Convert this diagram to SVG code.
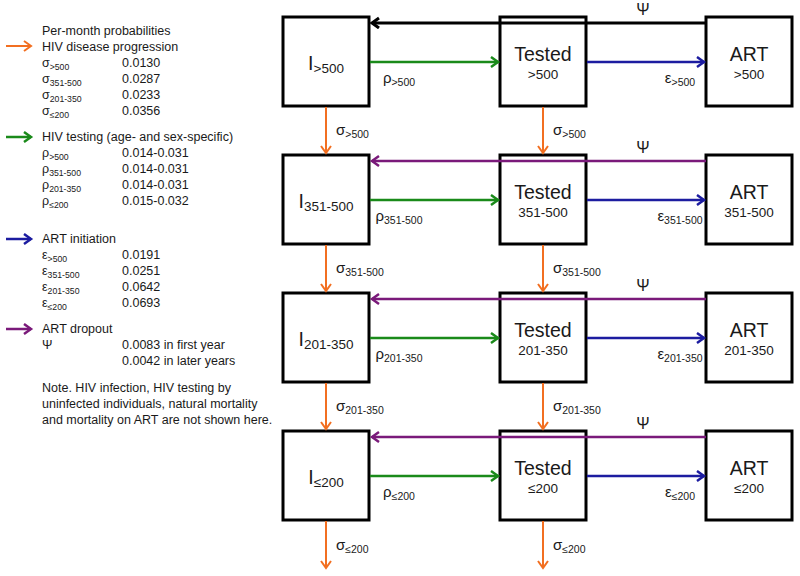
<svg xmlns="http://www.w3.org/2000/svg" width="800" height="576" viewBox="0 0 800 576">
<style>
text{font-family:"Liberation Sans",Arial,sans-serif;fill:#1a1a1a}
.lg{font-size:12.5px}
.sb{font-size:8.7px}
.box{fill:#fff;stroke:#000;stroke-width:3}
.big{font-size:19.5px}
.mid{font-size:13.5px}
.lab{font-size:15px}
.psi{font-size:16px}
.ls{font-size:10.5px}
.or{stroke:#f26f21;stroke-width:2;fill:none}
.gr{stroke:#1a8a1a;stroke-width:2.5;fill:none}
.bl{stroke:#1c1ca0;stroke-width:2.5;fill:none}
.pu{stroke:#7a1a7a;stroke-width:2.5;fill:none}
.bk{stroke:#000;stroke-width:3;fill:none}
</style>
<defs>
<marker id="mo" markerUnits="userSpaceOnUse" markerWidth="12" markerHeight="14" refX="8" refY="6" orient="auto"><path d="M1,1 L8,6 L1,11" fill="none" stroke="#f26f21" stroke-width="2"/></marker>
<marker id="mg" markerUnits="userSpaceOnUse" markerWidth="12" markerHeight="14" refX="8" refY="6" orient="auto"><path d="M1,1 L8,6 L1,11" fill="none" stroke="#1a8a1a" stroke-width="2.5"/></marker>
<marker id="mb" markerUnits="userSpaceOnUse" markerWidth="12" markerHeight="14" refX="8" refY="6" orient="auto"><path d="M1,1 L8,6 L1,11" fill="none" stroke="#1c1ca0" stroke-width="2.5"/></marker>
<marker id="mp" markerUnits="userSpaceOnUse" markerWidth="12" markerHeight="14" refX="8" refY="6" orient="auto"><path d="M1,1 L8,6 L1,11" fill="none" stroke="#7a1a7a" stroke-width="2.5"/></marker>
<marker id="mk" markerUnits="userSpaceOnUse" markerWidth="12" markerHeight="14" refX="8" refY="6" orient="auto"><path d="M1,1 L8,6 L1,11" fill="none" stroke="#000" stroke-width="3"/></marker>
</defs>

<g id="legend">
<line x1="6" y1="46" x2="31" y2="46" class="or" marker-end="url(#mo)"/>
<line x1="6" y1="137" x2="31" y2="137" class="gr" marker-end="url(#mg)"/>
<line x1="6" y1="239" x2="31" y2="239" class="bl" marker-end="url(#mb)"/>
<line x1="6" y1="329" x2="31" y2="329" class="pu" marker-end="url(#mp)"/>
<text class="lg" x="42" y="35">Per-month probabilities</text>
<text class="lg" x="42" y="51">HIV disease progression</text>
<text class="lg" x="42" y="67">σ<tspan class="sb" dy="3">&gt;500</tspan></text><text class="lg" x="122" y="67">0.0130</text>
<text class="lg" x="42" y="83">σ<tspan class="sb" dy="3">351-500</tspan></text><text class="lg" x="122" y="83">0.0287</text>
<text class="lg" x="42" y="99">σ<tspan class="sb" dy="3">201-350</tspan></text><text class="lg" x="122" y="99">0.0233</text>
<text class="lg" x="42" y="115">σ<tspan class="sb" dy="3">≤200</tspan></text><text class="lg" x="122" y="115">0.0356</text>
<text class="lg" x="42" y="141">HIV testing (age- and sex-specific)</text>
<text class="lg" x="42" y="157">ρ<tspan class="sb" dy="3">&gt;500</tspan></text><text class="lg" x="122" y="157">0.014-0.031</text>
<text class="lg" x="42" y="173">ρ<tspan class="sb" dy="3">351-500</tspan></text><text class="lg" x="122" y="173">0.014-0.031</text>
<text class="lg" x="42" y="189">ρ<tspan class="sb" dy="3">201-350</tspan></text><text class="lg" x="122" y="189">0.014-0.031</text>
<text class="lg" x="42" y="205">ρ<tspan class="sb" dy="3">≤200</tspan></text><text class="lg" x="122" y="205">0.015-0.032</text>
<text class="lg" x="42" y="243">ART initiation</text>
<text class="lg" x="42" y="259">ε<tspan class="sb" dy="3">&gt;500</tspan></text><text class="lg" x="122" y="259">0.0191</text>
<text class="lg" x="42" y="275">ε<tspan class="sb" dy="3">351-500</tspan></text><text class="lg" x="122" y="275">0.0251</text>
<text class="lg" x="42" y="291">ε<tspan class="sb" dy="3">201-350</tspan></text><text class="lg" x="122" y="291">0.0642</text>
<text class="lg" x="42" y="307">ε<tspan class="sb" dy="3">≤200</tspan></text><text class="lg" x="122" y="307">0.0693</text>
<text class="lg" x="42" y="333">ART dropout</text>
<text class="lg" x="42" y="349">Ψ</text><text class="lg" x="122" y="349">0.0083 in first year</text>
<text class="lg" x="122" y="365">0.0042 in later years</text>
<text class="lg" x="42" y="392">Note. HIV infection, HIV testing by</text>
<text class="lg" x="42" y="408">uninfected individuals, natural mortality</text>
<text class="lg" x="42" y="424">and mortality on ART are not shown here.</text>
</g>

<g id="I500"><rect class="box" x="283" y="17" width="86" height="89"/><text class="big" x="326" y="70" text-anchor="middle">I<tspan class="mid" dy="3">&gt;500</tspan></text></g>
<g id="T500"><rect class="box" x="500" y="17" width="86" height="89"/><text class="big" x="543" y="61" text-anchor="middle">Tested</text><text class="mid" x="543" y="79" text-anchor="middle">&gt;500</text></g>
<g id="A500"><rect class="box" x="706" y="17" width="86" height="89"/><text class="big" x="749" y="61" text-anchor="middle">ART</text><text class="mid" x="749" y="79" text-anchor="middle">&gt;500</text></g>

<g id="I351"><rect class="box" x="283" y="155" width="86" height="89"/><text class="big" x="326" y="208" text-anchor="middle">I<tspan class="mid" dy="3">351-500</tspan></text></g>
<g id="T351"><rect class="box" x="500" y="155" width="86" height="89"/><text class="big" x="543" y="199" text-anchor="middle">Tested</text><text class="mid" x="543" y="217" text-anchor="middle">351-500</text></g>
<g id="A351"><rect class="box" x="706" y="155" width="86" height="89"/><text class="big" x="749" y="199" text-anchor="middle">ART</text><text class="mid" x="749" y="217" text-anchor="middle">351-500</text></g>

<g id="I201"><rect class="box" x="283" y="293" width="86" height="89"/><text class="big" x="326" y="346" text-anchor="middle">I<tspan class="mid" dy="3">201-350</tspan></text></g>
<g id="T201"><rect class="box" x="500" y="293" width="86" height="89"/><text class="big" x="543" y="337" text-anchor="middle">Tested</text><text class="mid" x="543" y="355" text-anchor="middle">201-350</text></g>
<g id="A201"><rect class="box" x="706" y="293" width="86" height="89"/><text class="big" x="749" y="337" text-anchor="middle">ART</text><text class="mid" x="749" y="355" text-anchor="middle">201-350</text></g>

<g id="I200"><rect class="box" x="283" y="431" width="86" height="89"/><text class="big" x="326" y="484" text-anchor="middle">I<tspan class="mid" dy="3">≤200</tspan></text></g>
<g id="T200"><rect class="box" x="500" y="431" width="86" height="89"/><text class="big" x="543" y="475" text-anchor="middle">Tested</text><text class="mid" x="543" y="493" text-anchor="middle">≤200</text></g>
<g id="A200"><rect class="box" x="706" y="431" width="86" height="89"/><text class="big" x="749" y="475" text-anchor="middle">ART</text><text class="mid" x="749" y="493" text-anchor="middle">≤200</text></g>

<g id="connectors">
<line x1="706" y1="23" x2="372" y2="23" class="bk" marker-end="url(#mk)"/>
<line x1="706" y1="161" x2="372" y2="161" class="pu" marker-end="url(#mp)"/>
<line x1="706" y1="299" x2="372" y2="299" class="pu" marker-end="url(#mp)"/>
<line x1="706" y1="437" x2="372" y2="437" class="pu" marker-end="url(#mp)"/>

<line x1="370" y1="62" x2="498" y2="62" class="gr" marker-end="url(#mg)"/>
<line x1="370" y1="200" x2="498" y2="200" class="gr" marker-end="url(#mg)"/>
<line x1="370" y1="338" x2="498" y2="338" class="gr" marker-end="url(#mg)"/>
<line x1="370" y1="476" x2="498" y2="476" class="gr" marker-end="url(#mg)"/>

<line x1="587" y1="62" x2="704" y2="62" class="bl" marker-end="url(#mb)"/>
<line x1="587" y1="200" x2="704" y2="200" class="bl" marker-end="url(#mb)"/>
<line x1="587" y1="338" x2="704" y2="338" class="bl" marker-end="url(#mb)"/>
<line x1="587" y1="476" x2="704" y2="476" class="bl" marker-end="url(#mb)"/>

<line x1="326" y1="107" x2="326" y2="153" class="or" marker-end="url(#mo)"/>
<line x1="326" y1="245" x2="326" y2="291" class="or" marker-end="url(#mo)"/>
<line x1="326" y1="383" x2="326" y2="429" class="or" marker-end="url(#mo)"/>
<line x1="326" y1="521" x2="326" y2="568" class="or" marker-end="url(#mo)"/>
<line x1="543" y1="107" x2="543" y2="153" class="or" marker-end="url(#mo)"/>
<line x1="543" y1="245" x2="543" y2="291" class="or" marker-end="url(#mo)"/>
<line x1="543" y1="383" x2="543" y2="429" class="or" marker-end="url(#mo)"/>
<line x1="543" y1="521" x2="543" y2="568" class="or" marker-end="url(#mo)"/>

<text class="psi" x="643" y="15" text-anchor="middle">Ψ</text>
<text class="psi" x="643" y="153" text-anchor="middle">Ψ</text>
<text class="psi" x="643" y="291" text-anchor="middle">Ψ</text>
<text class="psi" x="643" y="429" text-anchor="middle">Ψ</text>

<text class="lab" x="399" y="83" text-anchor="middle">ρ<tspan class="ls" dy="3">&gt;500</tspan></text>
<text class="lab" x="399" y="221" text-anchor="middle">ρ<tspan class="ls" dy="3">351-500</tspan></text>
<text class="lab" x="399" y="359" text-anchor="middle">ρ<tspan class="ls" dy="3">201-350</tspan></text>
<text class="lab" x="399" y="497" text-anchor="middle">ρ<tspan class="ls" dy="3">≤200</tspan></text>

<text class="lab" x="680" y="83" text-anchor="middle">ε<tspan class="ls" dy="3">&gt;500</tspan></text>
<text class="lab" x="680" y="221" text-anchor="middle">ε<tspan class="ls" dy="3">351-500</tspan></text>
<text class="lab" x="680" y="359" text-anchor="middle">ε<tspan class="ls" dy="3">201-350</tspan></text>
<text class="lab" x="680" y="497" text-anchor="middle">ε<tspan class="ls" dy="3">≤200</tspan></text>

<text class="lab" x="336" y="135">σ<tspan class="ls" dy="3">&gt;500</tspan></text>
<text class="lab" x="336" y="273">σ<tspan class="ls" dy="3">351-500</tspan></text>
<text class="lab" x="336" y="411">σ<tspan class="ls" dy="3">201-350</tspan></text>
<text class="lab" x="336" y="550">σ<tspan class="ls" dy="3">≤200</tspan></text>
<text class="lab" x="553" y="135">σ<tspan class="ls" dy="3">&gt;500</tspan></text>
<text class="lab" x="553" y="273">σ<tspan class="ls" dy="3">351-500</tspan></text>
<text class="lab" x="553" y="411">σ<tspan class="ls" dy="3">201-350</tspan></text>
<text class="lab" x="553" y="550">σ<tspan class="ls" dy="3">≤200</tspan></text>
</g>
</svg>
